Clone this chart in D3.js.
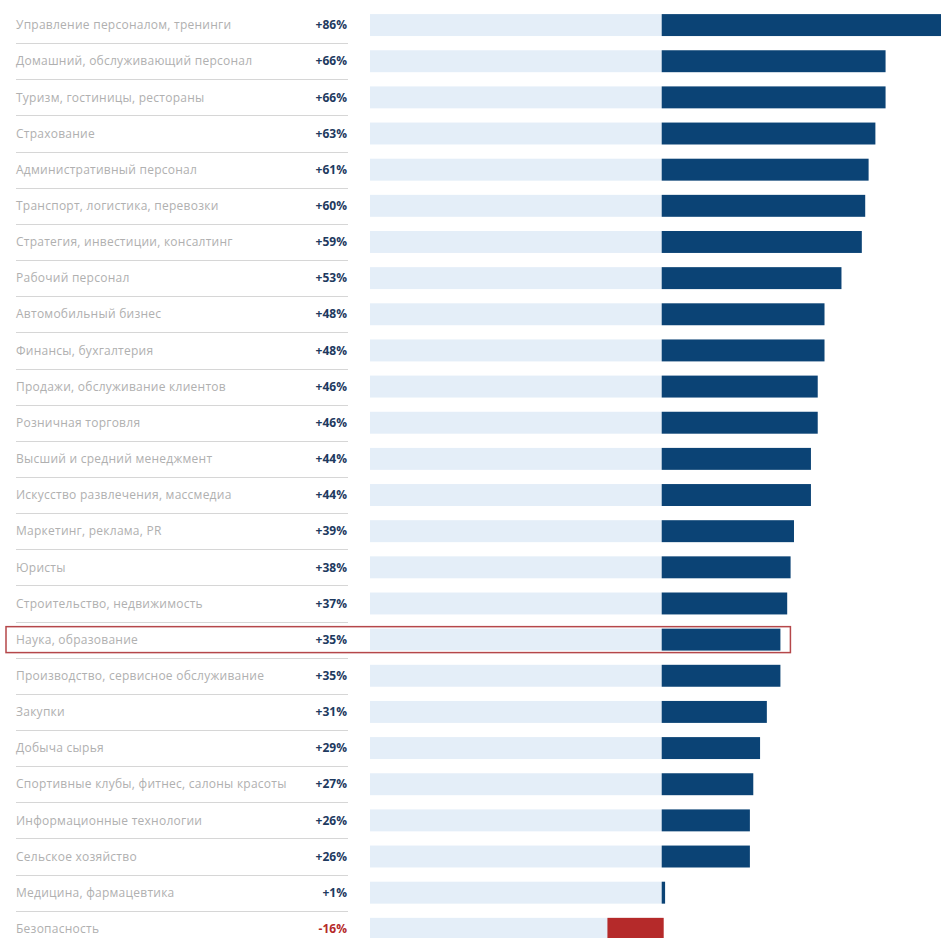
<!DOCTYPE html>
<html>
<head>
<meta charset="utf-8">
<script src="https://cdn.jsdelivr.net/npm/d3@7"></script>
<style>
  html, body { margin: 0; padding: 0; background: #ffffff; }
  svg { display: block; }
</style>
</head>
<body>
<svg id="chart" width="941" height="938"></svg>
<script>
const categories = [
  "Управление персоналом, тренинги",
  "Домашний, обслуживающий персонал",
  "Туризм, гостиницы, рестораны",
  "Страхование",
  "Административный персонал",
  "Транспорт, логистика, перевозки",
  "Стратегия, инвестиции, консалтинг",
  "Рабочий персонал",
  "Автомобильный бизнес",
  "Финансы, бухгалтерия",
  "Продажи, обслуживание клиентов",
  "Розничная торговля",
  "Высший и средний менеджмент",
  "Искусство развлечения, массмедиа",
  "Маркетинг, реклама, PR",
  "Юристы",
  "Строительство, недвижимость",
  "Наука, образование",
  "Производство, сервисное обслуживание",
  "Закупки",
  "Добыча сырья",
  "Спортивные клубы, фитнес, салоны красоты",
  "Информационные технологии",
  "Сельское хозяйство",
  "Медицина, фармацевтика",
  "Безопасность"
];
const values = [86, 66, 66, 63, 61, 60, 59, 53, 48, 48, 46, 46, 44, 44, 39, 38, 37, 35, 35, 31, 29, 27, 26, 26, 1, -16];
const highlighted = ["Наука, образование"];

const data = categories.map((c, i) => ({ cat: c, v: values[i] }));
const svg = d3.select("#chart");

const step = 36.15;
const r0 = 7.0;
const y = d3.scaleBand()
  .domain(categories)
  .range([r0, r0 + categories.length * step])
  .paddingInner(0.393)
  .paddingOuter(0.1965);

const maxV = d3.max(values);
const x = d3.scaleLinear().domain([-maxV, maxV]).range([370, 370 + 2 * 291.7]);

const fontLabel = "'Open Sans', 'Noto Sans', sans-serif";

// separators
svg.append("g").selectAll("line")
  .data(data.slice(0, -1))
  .join("line")
  .attr("x1", 16).attr("x2", 348)
  .attr("y1", d => Math.round(y(d.cat) + y.bandwidth() + (y.step() - y.bandwidth()) / 2) + 0.5)
  .attr("y2", d => Math.round(y(d.cat) + y.bandwidth() + (y.step() - y.bandwidth()) / 2) + 0.5)
  .attr("stroke", "#d6d6d6")
  .attr("stroke-width", 1);

// background bars
svg.append("g").selectAll("rect")
  .data(data)
  .join("rect")
  .attr("x", x(-maxV))
  .attr("width", x(0) - x(-maxV))
  .attr("y", d => y(d.cat))
  .attr("height", y.bandwidth())
  .attr("fill", "#e4eef8");

// value bars
svg.append("g").selectAll("rect")
  .data(data)
  .join("rect")
  .attr("x", d => x(Math.min(0, d.v)))
  .attr("width", d => Math.abs(x(d.v) - x(0)) + (d.v < 0 ? 2 : 0))
  .attr("y", d => y(d.cat))
  .attr("height", y.bandwidth())
  .attr("fill", d => d.v < 0 ? "#b52a2a" : "#0b4375");

// labels
svg.append("g").selectAll("text")
  .data(data)
  .join("text")
  .attr("x", 16)
  .attr("y", d => y(d.cat) + y.bandwidth() / 2)
  .attr("dy", "0.35em")
  .attr("font-family", fontLabel)
  .attr("font-size", 12)
  .attr("letter-spacing", 0.25)
  .attr("fill", "#b0b0b0")
  .text(d => d.cat);

// values
svg.append("g").selectAll("text")
  .data(data)
  .join("text")
  .attr("x", 347)
  .attr("y", d => y(d.cat) + y.bandwidth() / 2)
  .attr("dy", "0.35em")
  .attr("text-anchor", "end")
  .attr("font-family", fontLabel)
  .attr("font-weight", "bold")
  .attr("font-size", 12)
  .attr("fill", d => d.v < 0 ? "#b52a2a" : "#1e3a5f")
  .text(d => (d.v > 0 ? "+" : "") + d.v + "%");

// highlight box
svg.append("g").selectAll("rect")
  .data(data.filter(d => highlighted.includes(d.cat)))
  .join("rect")
  .attr("x", 6)
  .attr("y", d => y(d.cat) - 2)
  .attr("width", d => x(d.v) + 10 - 6)
  .attr("height", y.bandwidth() + 4)
  .attr("fill", "none")
  .attr("stroke", "#b5474a")
  .attr("stroke-width", 1.5);
</script>
</body>
</html>
